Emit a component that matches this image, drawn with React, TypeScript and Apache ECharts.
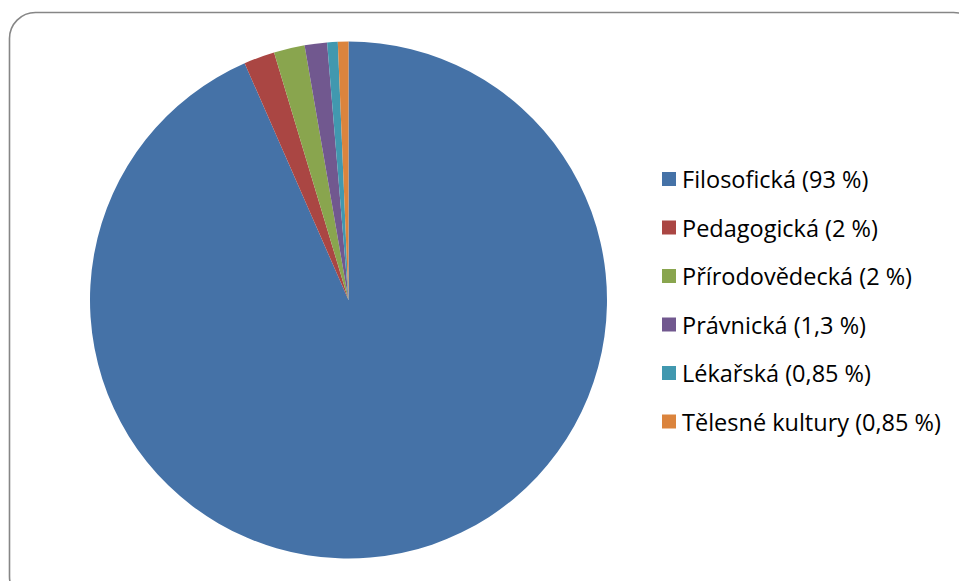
import React, { useEffect, useRef } from "react";
import * as echarts from "echarts";

const categories = ["Filosofická", "Pedagogická", "Přírodovědecká", "Právnická", "Lékařská", "Tělesné kultury"];
const values = [93.42, 1.93, 1.93, 1.4, 0.66, 0.66];
// percentages as printed in the legend
const legendPercents = ["93", "2", "2", "1,3", "0,85", "0,85"];
const colors = ["#4572A7", "#AA4643", "#89A54E", "#71588F", "#4198AF", "#DB843D"];

export default function App() {
  const ref = useRef<HTMLDivElement>(null);
  useEffect(() => {
    const chart = echarts.init(ref.current!, null, { renderer: "svg" });
    const pctMap: Record<string, string> = {};
    categories.forEach((c, i) => (pctMap[c] = legendPercents[i]));
    chart.setOption({
      animation: false,
      color: colors,
      graphic: [
        {
          type: "rect",
          shape: { x: 9.5, y: 12.5, width: 970, height: 590, r: 26 },
          style: { fill: "none", stroke: "#868686", lineWidth: 1.6 },
          silent: true,
        },
      ],
      legend: {
        orient: "vertical",
        left: 657,
        top: 162,
        itemWidth: 14,
        itemHeight: 14,
        itemGap: 24.5,
        icon: "rect",
        textStyle: { fontFamily: "Open Sans", fontSize: 23.5, lineHeight: 24, color: "#000", padding: [0, 0, 0, 1] },
        formatter: (name: string) => `${name} (${pctMap[name]} %)`,
        data: categories,
      },
      series: [
        {
          type: "pie",
          center: [348.5, 300],
          radius: 258.5,
          startAngle: 90,
          clockwise: true,
          label: { show: false },
          labelLine: { show: false },
          itemStyle: { borderWidth: 0 },
          emphasis: { disabled: true },
          data: categories.map((c, i) => ({ name: c, value: values[i] })),
        },
      ],
    });
    return () => chart.dispose();
  }, []);
  return <div ref={ref} style={{ position: "fixed", left: 0, top: 0, width: 959, height: 581, background: "#fff" }} />;
}
